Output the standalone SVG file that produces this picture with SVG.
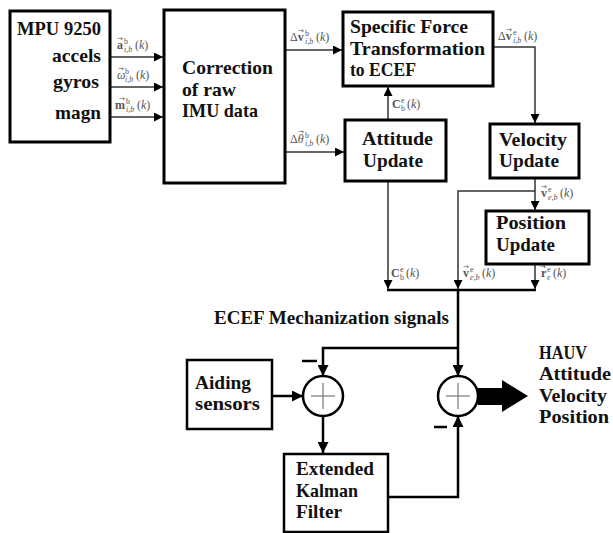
<svg xmlns="http://www.w3.org/2000/svg" width="613" height="533" viewBox="0 0 613 533">
<style>
.bg{fill:#ffffff}
.box{fill:#ffffff;stroke:#000;stroke-width:3}
.box2{fill:#ffffff;stroke:#000;stroke-width:2.5}
.t{font-family:"Liberation Serif",serif;font-weight:bold;font-size:19px;fill:#111}
.m{font-family:"Liberation Serif","DejaVu Serif",serif;font-size:12px;fill:#555}
.ms{font-size:8px}
.v{font-weight:bold}
.i{font-style:italic}
.ar{font-family:"DejaVu Sans",sans-serif;font-size:7px;font-weight:normal;font-style:normal}
.thin{fill:none;stroke:#333;stroke-width:1.5}
.thick{fill:none;stroke:#000;stroke-width:2.5}
.sum{fill:#fff;stroke:#000;stroke-width:2.5}
.plus{stroke:#777;stroke-width:1.2}
.minus{stroke:#000;stroke-width:2.5}
</style>
<defs>
<marker id="a1" viewBox="0 0 10 10" refX="10" refY="5" markerWidth="9" markerHeight="9" markerUnits="userSpaceOnUse" orient="auto"><path d="M0,0 L10,5 L0,10 z" fill="#000"/></marker>
<marker id="a2" viewBox="0 0 10 10" refX="10" refY="5" markerWidth="11" markerHeight="11" markerUnits="userSpaceOnUse" orient="auto"><path d="M0,0 L10,5 L0,10 z" fill="#000"/></marker>
</defs>
<rect class="bg" x="0" y="0" width="613" height="533"/>

<g id="connectors">
<path class="thin" d="M110,57 H163" marker-end="url(#a1)"/>
<path class="thin" d="M110,87 H163" marker-end="url(#a1)"/>
<path class="thin" d="M110,117 H163" marker-end="url(#a1)"/>
<path class="thin" d="M285,50 H342" marker-end="url(#a1)"/>
<path class="thin" d="M285,152 H344" marker-end="url(#a1)"/>
<path class="thin" d="M388,120 V87" marker-end="url(#a1)"/>
<path class="thin" d="M493,47 H535 V123" marker-end="url(#a1)"/>
<path class="thin" d="M535,178 V210" marker-end="url(#a1)"/>
<path class="thin" d="M535,191 H458 V289" marker-end="url(#a1)"/>
<path class="thin" d="M388,181 V289" marker-end="url(#a1)"/>
<path class="thin" d="M535,264 V289" marker-end="url(#a1)"/>
<path class="thick" d="M387,290 H536"/>
<path class="thick" d="M458,290 V376" marker-end="url(#a2)"/>
<path class="thick" d="M458,348 H323 V376" marker-end="url(#a2)"/>
<path class="thick" d="M272,396 H303" marker-end="url(#a2)"/>
<path class="thick" d="M323,416 V453" marker-end="url(#a2)"/>
<path class="thick" d="M388,497 H458 V416" marker-end="url(#a2)"/>
<path d="M478,388 H502 V380 L528,396 L502,412 V405 H478 z" fill="#000"/>
<line class="minus" x1="302" y1="361" x2="317" y2="361"/>
<line class="minus" x1="434" y1="427" x2="447" y2="427"/>

<text class="m" x="117" y="49"><tspan class="v">a</tspan><tspan class="ms" x="124" y="44">b</tspan><tspan class="ms i" x="124" y="52">i,b</tspan><tspan x="135" y="49">(<tspan class="i">k</tspan>)</tspan><tspan class="ar" x="117" y="41">→</tspan></text>
<text class="m" x="117" y="79"><tspan class="i">ω</tspan><tspan class="ms" x="125" y="74">b</tspan><tspan class="ms i" x="125" y="82">i,b</tspan><tspan x="136" y="79">(<tspan class="i">k</tspan>)</tspan><tspan class="ar" x="118" y="71">→</tspan></text>
<text class="m" x="115" y="109"><tspan class="v">m</tspan><tspan class="ms" x="126" y="104">b</tspan><tspan class="ms i" x="126" y="112">i,b</tspan><tspan x="137" y="109">(<tspan class="i">k</tspan>)</tspan><tspan class="ar" x="119" y="101">→</tspan></text>
<text class="m" x="290" y="41">Δ<tspan class="v">v</tspan><tspan class="ms" x="305" y="36">b</tspan><tspan class="ms i" x="305" y="44">i,b</tspan><tspan x="316" y="41">(<tspan class="i">k</tspan>)</tspan><tspan class="ar" x="298" y="33">→</tspan></text>
<text class="m" x="290" y="143">Δ<tspan class="i">θ</tspan><tspan class="ms" x="305" y="138">b</tspan><tspan class="ms i" x="305" y="146">i,b</tspan><tspan x="316" y="143">(<tspan class="i">k</tspan>)</tspan><tspan class="ar" x="298" y="134">→</tspan></text>
<text class="m" x="392" y="108"><tspan class="v">C</tspan><tspan class="ms" x="401" y="103">e</tspan><tspan class="ms" x="401" y="111">b</tspan><tspan x="407" y="108">(<tspan class="i">k</tspan>)</tspan></text>
<text class="m" x="498" y="40">Δ<tspan class="v">v</tspan><tspan class="ms" x="513" y="35">e</tspan><tspan class="ms i" x="513" y="43">i,b</tspan><tspan x="524" y="40">(<tspan class="i">k</tspan>)</tspan><tspan class="ar" x="506" y="32">→</tspan></text>
<text class="m" x="541" y="197"><tspan class="v">v</tspan><tspan class="ms" x="548" y="192">e</tspan><tspan class="ms i" x="548" y="200">e,b</tspan><tspan x="560" y="197">(<tspan class="i">k</tspan>)</tspan><tspan class="ar" x="541" y="189">→</tspan></text>
<text class="m" x="391" y="277"><tspan class="v">C</tspan><tspan class="ms" x="400" y="272">e</tspan><tspan class="ms" x="400" y="280">b</tspan><tspan x="406" y="277">(<tspan class="i">k</tspan>)</tspan></text>
<text class="m" x="463" y="277"><tspan class="v">v</tspan><tspan class="ms" x="470" y="272">e</tspan><tspan class="ms i" x="470" y="280">e,b</tspan><tspan x="482" y="277">(<tspan class="i">k</tspan>)</tspan><tspan class="ar" x="463" y="269">→</tspan></text>
<text class="m" x="541" y="277"><tspan class="v">r</tspan><tspan class="ms" x="547" y="272">e</tspan><tspan class="ms i" x="547" y="280">e</tspan><tspan x="553" y="277">(<tspan class="i">k</tspan>)</tspan><tspan class="ar" x="540" y="269">→</tspan></text>
</g>

<g id="mpu">
<rect class="box" x="10" y="11" width="100" height="131"/>
<text class="t" x="17" y="35" textLength="84" lengthAdjust="spacingAndGlyphs">MPU 9250</text>
<text class="t" x="52" y="62" textLength="49" lengthAdjust="spacingAndGlyphs">accels</text>
<text class="t" x="53" y="88" textLength="46" lengthAdjust="spacingAndGlyphs">gyros</text>
<text class="t" x="55" y="119" textLength="46" lengthAdjust="spacingAndGlyphs">magn</text>
</g>

<g id="correction">
<rect class="box" x="164" y="10" width="121" height="173"/>
<text class="t" x="182" y="74" textLength="91" lengthAdjust="spacingAndGlyphs">Correction</text>
<text class="t" x="182" y="96" textLength="54" lengthAdjust="spacingAndGlyphs">of raw</text>
<text class="t" x="182" y="117" textLength="76" lengthAdjust="spacingAndGlyphs">IMU data</text>
</g>

<g id="specific-force">
<rect class="box" x="343" y="12" width="150" height="74"/>
<text class="t" x="350" y="33" textLength="118" lengthAdjust="spacingAndGlyphs">Specific Force</text>
<text class="t" x="350" y="55" textLength="135" lengthAdjust="spacingAndGlyphs">Transformation</text>
<text class="t" x="350" y="76" textLength="66" lengthAdjust="spacingAndGlyphs">to ECEF</text>
</g>

<g id="attitude-update">
<rect class="box" x="345" y="120" width="101" height="61"/>
<text class="t" x="362" y="145" textLength="71" lengthAdjust="spacingAndGlyphs">Attitude</text>
<text class="t" x="363" y="167" textLength="60" lengthAdjust="spacingAndGlyphs">Update</text>
</g>

<g id="velocity-update">
<rect class="box" x="490" y="124" width="89" height="54"/>
<text class="t" x="499" y="146" textLength="68" lengthAdjust="spacingAndGlyphs">Velocity</text>
<text class="t" x="499" y="167" textLength="60" lengthAdjust="spacingAndGlyphs">Update</text>
</g>

<g id="position-update">
<rect class="box" x="486" y="211" width="103" height="53"/>
<text class="t" x="496" y="229" textLength="70" lengthAdjust="spacingAndGlyphs">Position</text>
<text class="t" x="496" y="251" textLength="59" lengthAdjust="spacingAndGlyphs">Update</text>
</g>

<g id="ecef-label">
<text class="t" x="214" y="324" textLength="235" lengthAdjust="spacingAndGlyphs">ECEF Mechanization signals</text>
</g>

<g id="aiding-sensors">
<rect class="box2" x="187" y="360" width="85" height="69"/>
<text class="t" x="195" y="389" textLength="56" lengthAdjust="spacingAndGlyphs">Aiding</text>
<text class="t" x="195" y="410" textLength="65" lengthAdjust="spacingAndGlyphs">sensors</text>
</g>

<g id="sum-left">
<circle class="sum" cx="323" cy="396" r="20"/>
<line class="plus" x1="311" y1="396" x2="335" y2="396"/>
<line class="plus" x1="323" y1="383" x2="323" y2="409"/>
</g>

<g id="sum-right">
<circle class="sum" cx="458" cy="396" r="20"/>
<line class="plus" x1="446" y1="396" x2="470" y2="396"/>
<line class="plus" x1="458" y1="383" x2="458" y2="409"/>
</g>

<g id="ekf">
<rect class="box2" x="284" y="454" width="104" height="78"/>
<text class="t" x="296" y="475" textLength="78" lengthAdjust="spacingAndGlyphs">Extended</text>
<text class="t" x="296" y="497" textLength="62" lengthAdjust="spacingAndGlyphs">Kalman</text>
<text class="t" x="296" y="518" textLength="46" lengthAdjust="spacingAndGlyphs">Filter</text>
</g>

<g id="hauv-output">
<text class="t" x="539" y="359" textLength="48" lengthAdjust="spacingAndGlyphs">HAUV</text>
<text class="t" x="539" y="380" textLength="72" lengthAdjust="spacingAndGlyphs">Attitude</text>
<text class="t" x="539" y="402" textLength="68" lengthAdjust="spacingAndGlyphs">Velocity</text>
<text class="t" x="539" y="423" textLength="70" lengthAdjust="spacingAndGlyphs">Position</text>
</g>
</svg>
